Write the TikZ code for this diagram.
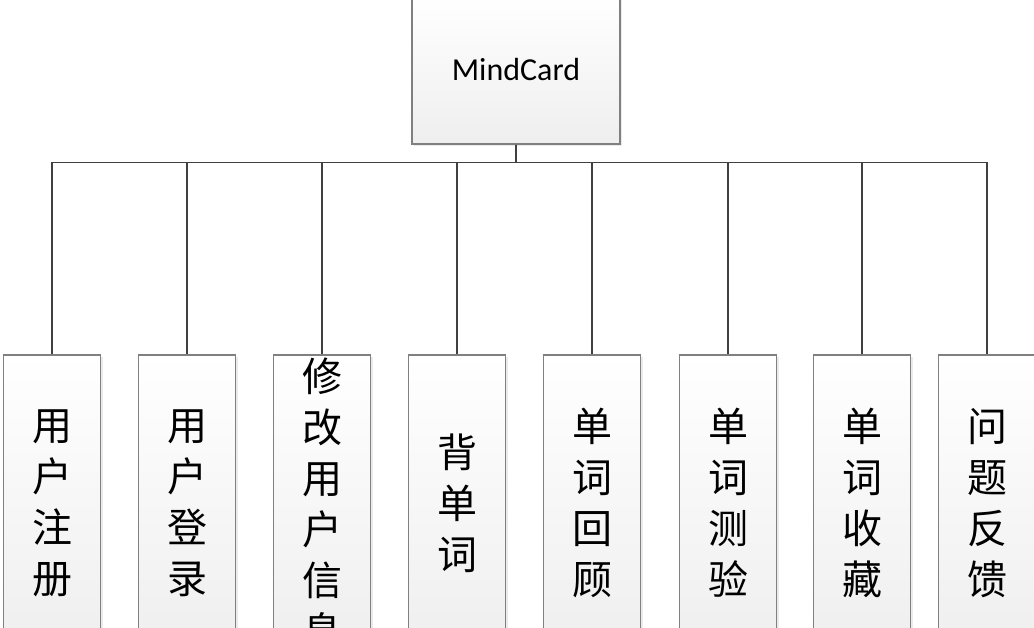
\documentclass[tikz,border=0pt]{standalone}
\usepackage{fontspec}
\setmainfont{Carlito}
\newfontfamily\cjk{Noto Sans CJK SC}
\usetikzlibrary{shadows}

\begin{document}
\begin{tikzpicture}
  [x=1pt, y=-1pt,
   cbox/.style={draw=gray, line width=1.5pt, top color=white, bottom color=gray!13,
     drop shadow={shadow xshift=2pt, shadow yshift=-2pt, fill=black!20, opacity=0.4},
     inner sep=0},
   mbox/.style={cbox, minimum width=208pt, minimum height=148pt,
     font=\fontsize{32}{38}\selectfont},
   fbox/.style={cbox, minimum width=97pt, minimum height=296pt},
   ftext/.style={align=center, inner sep=0, font=\cjk\fontsize{40}{51}\selectfont},
   link/.style={draw=black!75, line width=1.3pt}]

  \useasboundingbox (0,0) rectangle (1034,628);
  \clip (0,0) rectangle (1034,628);

  % root
  \node[mbox] (mind) at (516,70) {MindCard};

  % functions
  \foreach \i/\x/\txt in {1/52/{用\\户\\注\\册}, 2/187/{用\\户\\登\\录},
                          3/322/{修\\改\\用\\户\\信\\息}, 4/457/{背\\单\\词},
                          5/592/{单\\词\\回\\顾}, 6/728/{单\\词\\测\\验},
                          7/862/{单\\词\\收\\藏}, 8/987/{问\\题\\反\\馈}}
  {
    \node[fbox, label={[ftext]center:\txt}] (f\i) at (\x, 503) {};
    \draw[link] (mind.south) -- +(0,18) -| (f\i.north);
  }

\end{tikzpicture}
\end{document}
